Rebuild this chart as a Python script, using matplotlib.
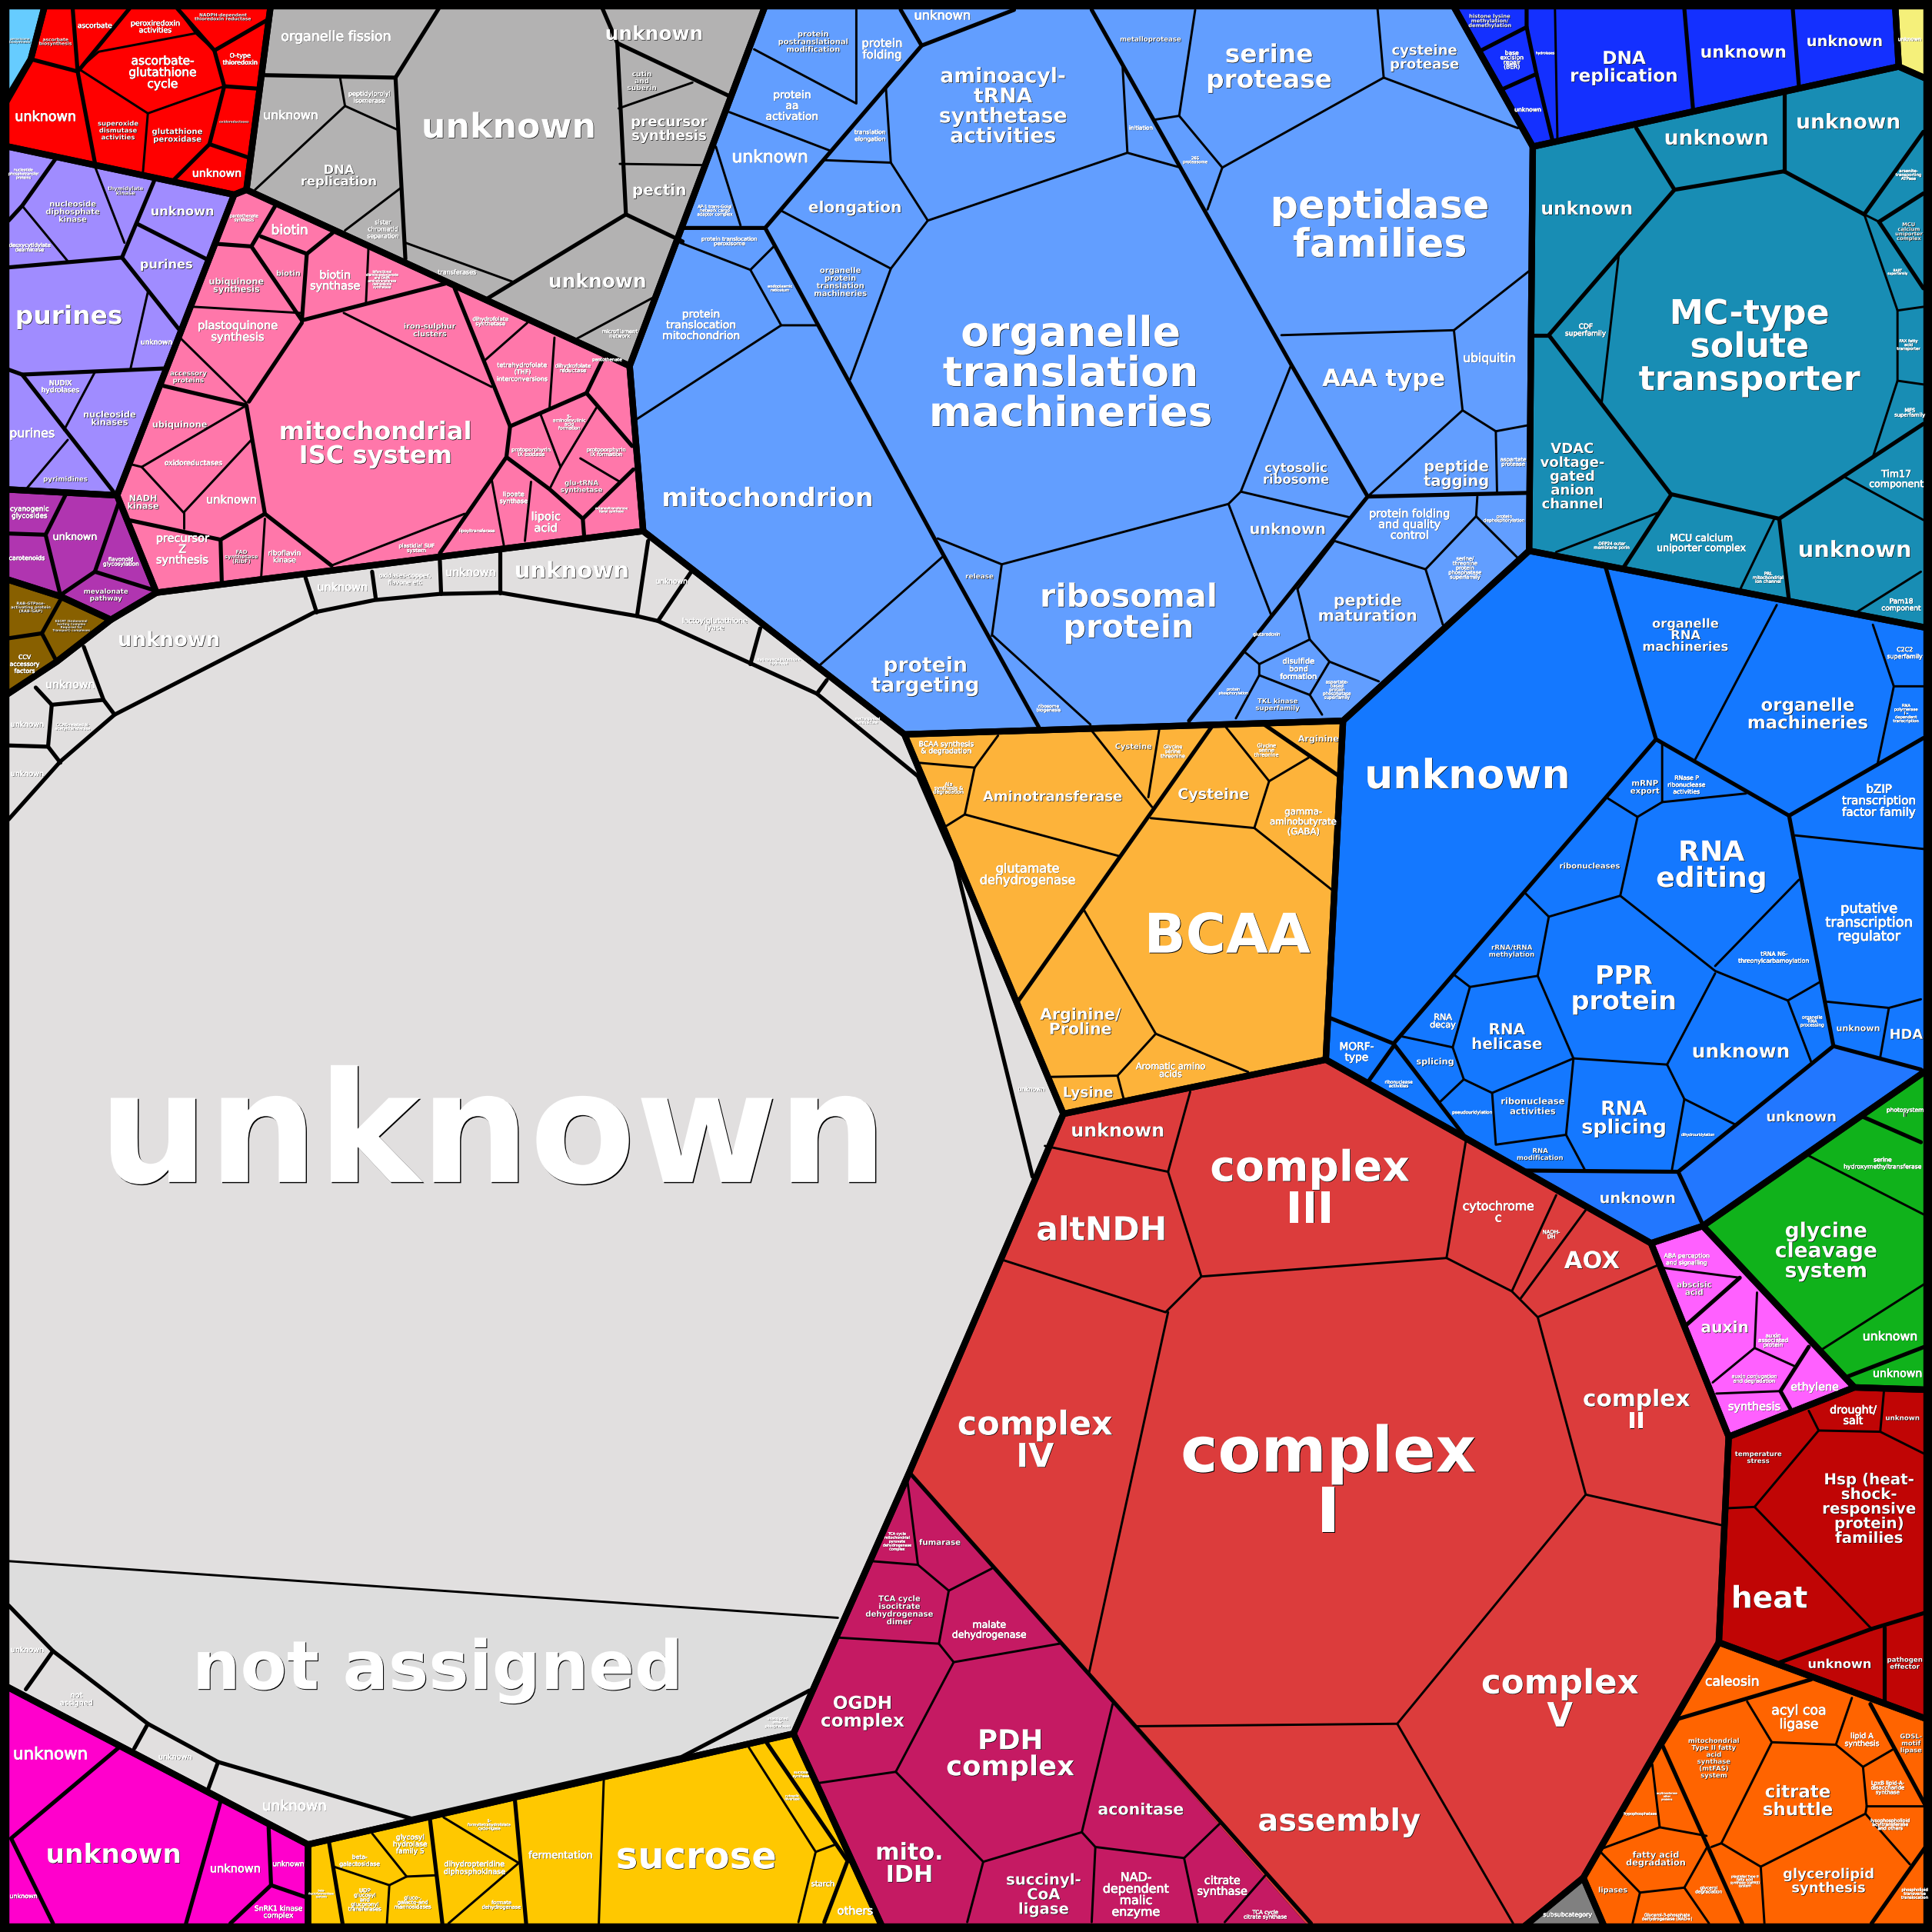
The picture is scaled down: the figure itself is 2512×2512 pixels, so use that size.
import matplotlib
matplotlib.use("Agg")
import matplotlib.pyplot as plt
import matplotlib.patheffects as pe
from matplotlib.patches import Polygon, Rectangle

# group outlines, in the coordinates of the 1568 px preview
light_blue_corner = [(7, 7), (37, 7), (25, 48), (7, 86)]
red_group = [(37, 7), (220, 7), (200, 154), (190, 158), (7, 118), (7, 88), (25, 48)]
lilac_group = [(7, 118), (190, 158), (95, 402), (7, 397)]
pink_group = [(200, 154), (511, 297), (522, 431), (127, 481), (95, 402), (190, 158)]
purple_group = [(7, 397), (95, 402), (127, 481), (90, 503), (49, 484), (7, 469)]
brown_group = [(7, 469), (49, 484), (90, 503), (46, 537), (7, 566)]
gray_group = [(220, 7), (622, 7), (511, 297), (200, 154)]
periwinkle_group = [(622, 7), (1178, 7), (1244, 119), (1241, 447), (1090, 585), (734, 596), (522, 431), (511, 297)]
amber_group = [(734, 596), (1090, 585), (1076, 860), (863, 904)]
pale_group = [(7, 566), (46, 537), (90, 503), (127, 481), (522, 431), (734, 596), (863, 904), (738, 1195), (644, 1407), (250, 1497), (7, 1367)]
not_assigned_cell = [(7, 1267), (680, 1313), (644, 1407), (553, 1426), (334, 1476), (177, 1430), (120, 1399), (43, 1340), (7, 1303)]
red_complex_group = [(863, 904), (1076, 860), (1190, 924), (1340, 1009), (1403, 1166), (1395, 1333), (1285, 1524), (1234, 1561), (1064, 1561), (738, 1195)]
tca_group = [(738, 1195), (1064, 1561), (717, 1561), (644, 1407)]
yellow_group = [(250, 1497), (644, 1407), (717, 1561), (250, 1561)]
magenta_group = [(7, 1367), (250, 1497), (250, 1561), (7, 1561)]
pale_yellow_corner = [(1538, 7), (1561, 7), (1561, 65), (1541, 54)]
royal_group = [(1178, 7), (1538, 7), (1541, 54), (1244, 119)]
teal_group = [(1244, 119), (1541, 54), (1561, 65), (1561, 510), (1241, 447)]
blue_group = [(1241, 447), (1561, 510), (1561, 867), (1382, 995), (1340, 1009), (1190, 924), (1076, 860), (1090, 585)]
blue_unknown_cells = [(1237, 950), (1362, 951), (1488, 849), (1561, 867), (1382, 995), (1340, 1009)]
green_group = [(1382, 995), (1561, 867), (1561, 1128), (1505, 1126)]
hormone_group = [(1340, 1009), (1382, 995), (1505, 1126), (1403, 1166)]
dark_red_group = [(1403, 1166), (1505, 1126), (1561, 1128), (1561, 1396), (1395, 1333)]
orange_group = [(1395, 1333), (1561, 1396), (1561, 1561), (1303, 1561), (1285, 1524)]
gray_corner = [(1285, 1524), (1303, 1561), (1234, 1561)]

group_shapes = [
    light_blue_corner, red_group, lilac_group, pink_group, purple_group, brown_group,
    gray_group, periwinkle_group, amber_group, pale_group, not_assigned_cell,
    red_complex_group, tca_group, yellow_group, magenta_group, pale_yellow_corner,
    royal_group, teal_group, blue_group, blue_unknown_cells, green_group,
    hormone_group, dark_red_group, orange_group, gray_corner,
]
group_colors = [
    "#66ccff", "#ff0000", "#a08cff", "#ff77aa", "#b035b0", "#886000",
    "#b3b2b2", "#629eff", "#fdb33a", "#e1dfdf", "#dddddd",
    "#dc3c3c", "#c51a63", "#ffc800", "#ff00cc", "#f5f07a",
    "#1430ff", "#188db4", "#1478ff", "#2277ff", "#10b21b",
    "#ff60ff", "#c00505", "#ff6400", "#808080",
]
# red complex and TCA share one parent, so only their outer side is heavy
no_outline = [blue_unknown_cells, not_assigned_cell, red_complex_group, tca_group]
outlined = [g for g in group_shapes if not any(g is n for n in no_outline)]
respiration_border = [(717, 1566), (644, 1407), (738, 1195), (863, 904), (1076, 860), (1190, 924), (1340, 1009),
                      (1403, 1166), (1395, 1333), (1285, 1524), (1234, 1566)]

mid_lines = [
    # red complex / TCA
    [(738, 1195), (1064, 1561)],
    # red
    [(25, 48), (63, 58), (77, 132)], [(59, 7), (63, 58)], [(105, 7), (64, 57)],
    [(144, 7), (174, 41), (219, 15)], [(174, 41), (182, 70), (210, 72)],
    [(182, 70), (170, 117), (140, 147)], [(170, 117), (202, 128)],
    # lilac
    [(45, 129), (18, 167), (7, 179)], [(125, 147), (99, 209), (7, 217)],
    [(99, 209), (145, 267)], [(134, 299), (18, 304), (7, 300)], [(18, 304), (92, 399)],
    [(112, 182), (167, 210)],
    # pink
    [(224, 166), (204, 200), (177, 198)], [(204, 200), (245, 260)],
    [(212, 192), (249, 206), (270, 189)], [(249, 206), (245, 260)], [(362, 230), (245, 260)],
    [(245, 262), (202, 326)], [(132, 313), (200, 329), (215, 417), (269, 459)],
    [(369, 234), (414, 346), (411, 371), (357, 449)], [(414, 346), (476, 319), (489, 292)],
    [(476, 319), (513, 362)], [(411, 371), (446, 397), (473, 421), (514, 381)],
    [(473, 421), (474, 434)], [(104, 422), (179, 438), (215, 417)], [(179, 438), (180, 473)],
    # purple and brown
    [(53, 402), (37, 434), (49, 483)], [(7, 433), (37, 434)], [(96, 409), (77, 464), (125, 479)],
    [(77, 464), (49, 483)], [(49, 487), (34, 514), (46, 537)], [(7, 518), (34, 514)],
    # gray
    [(356, 7), (321, 63), (329, 210)], [(215, 61), (321, 63)], [(489, 7), (501, 35), (508, 174), (396, 242)],
    [(501, 35), (592, 78)], [(508, 174), (554, 196)],
    # periwinkle
    [(823, 8), (748, 37), (731, 8)], [(748, 37), (621, 185), (554, 185)],
    [(621, 185), (766, 451), (843, 590)], [(886, 8), (1048, 296), (1110, 403), (1032, 500), (965, 585)],
    [(1110, 403), (1241, 400)],
    # amber
    [(984, 589), (826, 813)], [(1026, 588), (1087, 630)],
    # pale group
    [(7, 665), (49, 618), (93, 580), (255, 497), (304, 487), (357, 482), (406, 481), (517, 500), (534, 504),
     (663, 563), (745, 630), (775, 699), (838, 955)],
    [(7, 1303), (43, 1340), (120, 1399), (177, 1430), (334, 1476), (553, 1426), (657, 1372)],
    [(248, 469), (257, 497)], [(302, 464), (305, 486)], [(357, 455), (358, 482)], [(406, 448), (406, 481)],
    [(526, 439), (517, 500)], [(68, 525), (84, 568), (93, 580)], [(29, 558), (42, 572), (84, 568)],
    [(42, 572), (39, 606), (7, 605)], [(39, 606), (49, 619)], [(561, 464), (534, 504)], [(617, 510), (609, 539)],
    [(671, 552), (663, 563)], [(43, 1340), (21, 1371)], [(120, 1399), (109, 1419)], [(177, 1430), (169, 1452)],
    # teal
    [(1328, 104), (1359, 154), (1448, 139), (1513, 174)], [(1448, 77), (1448, 139)],
    [(1359, 154), (1257, 272), (1356, 401), (1444, 421), (1561, 344)], [(1245, 272), (1257, 272)],
    [(1444, 421), (1452, 488)], [(1513, 174), (1561, 107)], [(1525, 180), (1561, 157)],
    [(1525, 180), (1561, 234)], [(1356, 402), (1318, 460)],
    # blue
    [(1303, 460), (1344, 600), (1452, 662), (1561, 599)], [(1452, 662), (1488, 849), (1559, 868)],
    [(1344, 600), (1131, 847), (1190, 924)], [(1079, 826), (1131, 847)], [(1237, 950), (1362, 951), (1488, 849)],
    [(1362, 951), (1382, 994)], [(1131, 849), (1111, 877)],
    # green, hormones, dark red
    [(1500, 1117), (1562, 1093)], [(1511, 906), (1559, 927)], [(1412, 1037), (1369, 1075)],
    [(1468, 1093), (1445, 1129), (1454, 1145)], [(1519, 1322), (1562, 1309)], [(1519, 1322), (1445, 1349)],
    [(1529, 1321), (1529, 1383)],
    # orange
    [(1362, 1395), (1470, 1363)], [(1362, 1395), (1349, 1416), (1414, 1561)], [(1518, 1383), (1562, 1464)],
    [(1562, 1500), (1519, 1561)],
    # tca and yellow
    [(349, 1477), (359, 1561)], [(418, 1462), (427, 1561)], [(622, 1414), (687, 1509)], [(688, 1510), (669, 1560)],
    [(267, 1495), (278, 1561)],
    # magenta
    [(98, 1417), (9, 1492), (43, 1561)], [(179, 1462), (151, 1561)], [(218, 1483), (220, 1530), (249, 1540)],
    [(220, 1530), (187, 1561)],
    # royal
    [(1239, 7), (1239, 22), (1200, 42)], [(1239, 22), (1247, 60), (1218, 73)], [(1247, 60), (1260, 114)],
    [(1367, 7), (1374, 88)], [(1455, 7), (1460, 70)],
]

thin_lines = [
    # red
    [(80, 42), (159, 27), (174, 41)], [(182, 70), (120, 92), (64, 56), (80, 42)], [(144, 7), (159, 27)],
    [(120, 92), (116, 140)],
    # lilac
    [(18, 167), (55, 212)], [(77, 135), (101, 197)], [(120, 237), (106, 299)],
    [(77, 302), (52, 349)], [(55, 357), (22, 396)],
    # pink
    [(157, 249), (244, 254)], [(299, 202), (297, 246)], [(147, 275), (200, 327)],
    [(279, 254), (399, 314)], [(269, 459), (377, 417)], [(428, 262), (394, 292)],
    [(450, 274), (446, 331)], [(200, 329), (115, 379), (149, 416), (204, 357)], [(107, 377), (115, 379)],
    [(149, 416), (149, 429)], [(215, 421), (212, 468)], [(439, 337), (455, 379), (446, 397)],
    [(455, 379), (484, 331)], [(471, 372), (503, 391)], [(399, 389), (409, 443)], [(431, 391), (426, 439)],
    # gray
    [(276, 63), (280, 86), (322, 105)], [(280, 86), (207, 154)], [(326, 152), (280, 187)],
    [(329, 197), (417, 229)], [(502, 88), (562, 67)], [(503, 133), (571, 134)], [(466, 276), (531, 241)],
    # periwinkle
    [(1040, 272), (1180, 268), (1241, 220)], [(1180, 268), (1187, 333), (1110, 403)],
    [(1187, 333), (1214, 350), (1241, 345)], [(1214, 350), (1215, 400)],
    [(1118, 7), (1123, 63), (992, 136)], [(1123, 63), (1232, 104)],
    [(970, 8), (957, 94), (938, 97)], [(957, 94), (992, 136), (980, 170)],
    [(911, 52), (915, 124), (958, 136)], [(915, 124), (753, 179), (723, 132), (669, 130)],
    [(723, 132), (719, 71)], [(753, 179), (723, 218), (634, 171)], [(723, 218), (690, 308)],
    [(1007, 399), (997, 409), (813, 458), (761, 437)], [(813, 458), (805, 516)],
    [(1048, 296), (1007, 399), (1096, 420)], [(997, 409), (1032, 500)], [(806, 516), (885, 588)],
    [(766, 451), (664, 541)], [(1010, 529), (1022, 539), (1063, 519), (1053, 478)],
    [(1022, 539), (1022, 548), (1003, 583)], [(1022, 548), (1063, 564)],
    [(1083, 439), (1157, 462), (1171, 507)], [(1157, 462), (1198, 419), (1199, 403)], [(1198, 419), (1232, 453)],
    [(1083, 439), (1053, 478)], [(1063, 519), (1079, 537), (1119, 553)], [(1079, 537), (1063, 564), (1073, 580)],
    [(612, 40), (695, 84), (695, 8)], [(592, 91), (673, 122)], [(581, 119), (601, 183)],
    [(552, 197), (609, 219), (628, 200)], [(609, 219), (634, 264), (664, 264)], [(634, 264), (514, 342)],
    # amber
    [(810, 597), (791, 623), (745, 619)], [(791, 623), (783, 661), (767, 671)], [(783, 661), (909, 695)],
    [(886, 593), (935, 655)], [(941, 591), (932, 647)], [(934, 664), (1018, 672), (1030, 634), (994, 589)],
    [(1030, 634), (1062, 615)], [(1018, 672), (1082, 723)], [(880, 739), (938, 839), (1013, 870)],
    [(938, 839), (907, 873), (853, 874)], [(907, 873), (912, 892)],
    # pale group
    [(680, 1313), (7, 1267)],
    # red complex
    [(848, 930), (948, 951), (975, 1036), (946, 1065), (812, 1022)], [(966, 886), (948, 951)],
    [(948, 1065), (884, 1357)], [(975, 1036), (1174, 1021), (1190, 924)],
    [(1174, 1021), (1227, 1048), (1248, 1069), (1287, 1213), (1398, 1238)],
    [(1287, 1213), (1134, 1399), (922, 1401)], [(1134, 1399), (1228, 1561)],
    [(1263, 970), (1227, 1048)], [(1287, 982), (1234, 1054)], [(1345, 1027), (1248, 1069)],
    # tca
    [(707, 1267), (745, 1270), (736, 1198)], [(745, 1270), (770, 1291), (805, 1273)],
    [(770, 1291), (762, 1334), (679, 1329)], [(762, 1334), (774, 1349), (860, 1334)],
    [(774, 1349), (727, 1438), (665, 1447)], [(727, 1438), (798, 1511), (878, 1487), (903, 1383)],
    [(878, 1487), (889, 1499), (961, 1508), (990, 1480)], [(961, 1508), (972, 1560)],
    [(1027, 1522), (994, 1560)], [(889, 1499), (886, 1560)], [(798, 1511), (785, 1560)],
    # yellow
    [(302, 1488), (330, 1523), (353, 1522)], [(271, 1515), (316, 1530), (330, 1523)], [(316, 1530), (314, 1561)],
    [(360, 1475), (421, 1512), (364, 1561)], [(490, 1445), (486, 1561)],
    [(607, 1417), (662, 1503), (648, 1560)], [(662, 1503), (678, 1497)],
    # royal
    [(1262, 7), (1264, 113)],
    # teal
    [(1314, 205), (1300, 326)], [(1520, 371), (1540, 309), (1540, 252), (1513, 174)], [(1513, 174), (1525, 180)],
    [(1540, 252), (1561, 249)], [(1540, 309), (1561, 312)], [(1497, 387), (1561, 422)], [(1559, 464), (1505, 498)],
    [(1440, 421), (1412, 479)], [(1346, 416), (1263, 448)],
    # blue
    [(1442, 491), (1376, 616)], [(1520, 507), (1537, 557), (1561, 557)], [(1537, 557), (1524, 619)],
    [(1457, 678), (1561, 689)], [(1349, 603), (1349, 651), (1417, 644)], [(1305, 648), (1329, 663), (1349, 651)],
    [(1329, 663), (1315, 727), (1392, 788), (1451, 812), (1477, 797)], [(1238, 725), (1257, 744), (1315, 727)],
    [(1392, 784), (1460, 714)], [(1451, 812), (1470, 862)], [(1392, 790), (1353, 864)],
    [(1257, 744), (1248, 792), (1277, 859), (1353, 864)], [(1180, 791), (1193, 801), (1248, 792)],
    [(1193, 801), (1179, 850), (1137, 841)], [(1179, 850), (1188, 876), (1169, 894)],
    [(1188, 876), (1211, 887), (1277, 859), (1271, 921), (1286, 949)], [(1211, 887), (1214, 929), (1271, 921)],
    [(1353, 864), (1367, 892), (1409, 913)], [(1367, 892), (1357, 949)],
    [(1483, 813), (1533, 818), (1559, 811)], [(1533, 818), (1526, 858)],
    # green
    [(1468, 938), (1562, 986)], [(1479, 1095), (1562, 1042)], [(1511, 906), (1467, 938)],
    # hormones
    [(1350, 1029), (1412, 1037)], [(1426, 1049), (1424, 1094), (1390, 1122)], [(1424, 1094), (1457, 1109)],
    [(1445, 1129), (1393, 1131)],
    # dark red
    [(1468, 1145), (1476, 1161), (1526, 1162), (1562, 1180)], [(1529, 1129), (1526, 1162)],
    [(1476, 1161), (1424, 1223), (1403, 1224)], [(1424, 1223), (1519, 1322)],
    # orange
    [(1418, 1381), (1438, 1414), (1490, 1416), (1503, 1378)], [(1490, 1416), (1512, 1434), (1536, 1420)],
    [(1512, 1434), (1515, 1466), (1562, 1466)], [(1515, 1466), (1514, 1472), (1429, 1515)],
    [(1514, 1472), (1550, 1513)], [(1438, 1414), (1397, 1496), (1429, 1515), (1432, 1561)],
    [(1389, 1499), (1397, 1496)], [(1341, 1432), (1347, 1483), (1301, 1500)], [(1347, 1483), (1385, 1490)],
    [(1385, 1500), (1367, 1532), (1331, 1536), (1298, 1502)], [(1367, 1532), (1387, 1561)], [(1331, 1536), (1325, 1561)],
]

# label centre x, centre y, width of the longest line, text
bold_labels = [
    (45, 34, 27, "ascorbate\nbiosynthesis"), (181, 14, 46, "NADPH-dependent\nthioredoxin reductase"),
    (96, 106, 33, "superoxide\ndismutase\nactivities"), (144, 110, 41, "glutathione\nperoxidase"),
    (190, 99, 24, "oxidoreductases"), (16, 33, 17, "peroxisome\nbiosynthesis"),
    (59, 172, 44, "nucleoside\ndiphosphate\nkinase"), (102, 155, 29, "thymidylate\nkinase"),
    (148, 172, 52, "unknown"), (135, 215, 43, "purines"), (56, 257, 87, "purines"),
    (89, 340, 43, "nucleoside\nkinases"), (53, 389, 36, "pyrimidines"), (234, 222, 20, "biotin"),
    (192, 232, 45, "ubiquinone\nsynthesis"), (349, 268, 42, "iron-sulphur\nclusters"),
    (472, 395, 34, "glu-tRNA\nsynthetase"), (153, 306, 30, "accessory\nproteins"),
    (146, 345, 45, "ubiquinone"), (116, 408, 26, "NADH\nkinase"),
    (305, 361, 156, "mitochondrial\nISC system"), (196, 452, 27, "FAD\nsynthetase\n(RibF)"),
    (86, 483, 36, "mevalonate\npathway"), (25, 493, 32, "RAB-GTPase-\nactivating protein\n(RAB-GAP)"),
    (58, 508, 31, "ESCRT (Endosomal\nSorting Complex\nRequired for\nTransport) complexes"),
    (413, 104, 142, "unknown"), (485, 229, 80, "unknown"), (531, 28, 80, "unknown"),
    (521, 66, 24, "cutin\nand\nsuberin"), (543, 105, 62, "precursor\nsynthesis"), (535, 155, 44, "pectin"),
    (275, 143, 62, "DNA\nreplication"),
    (660, 34, 57, "protein\npostranslational\nmodification"), (694, 169, 76, "elongation"),
    (682, 229, 43, "organelle\nprotein\ntranslation\nmachineries"),
    (814, 87, 104, "aminoacyl-\ntRNA\nsynthetase\nactivities"), (869, 304, 230, "organelle\ntranslation\nmachineries"),
    (623, 405, 172, "mitochondrion"), (795, 468, 23, "release"), (916, 498, 144, "ribosomal\nprotein"),
    (751, 549, 88, "protein\ntargeting"), (934, 32, 50, "metalloprotease"), (1030, 55, 102, "serine\nprotease"),
    (1156, 47, 56, "cysteine\nprotease"), (1120, 184, 178, "peptidase\nfamilies"), (1123, 308, 100, "AAA type"),
    (1052, 385, 54, "cytosolic\nribosome"), (1182, 385, 53, "peptide\ntagging"), (1045, 430, 62, "unknown"),
    (1110, 494, 81, "peptide\nmaturation"), (1037, 572, 36, "TKL kinase\nsuperfamily"),
    (1209, 17, 35, "histone lysine\nmethylation/\ndemethylation"), (1318, 55, 88, "DNA\nreplication"),
    (1415, 43, 70, "unknown"), (1497, 34, 62, "unknown"), (1393, 113, 85, "unknown"), (1500, 100, 85, "unknown"),
    (1288, 170, 75, "unknown"), (1420, 282, 180, "MC-type\nsolute\ntransporter"),
    (1276, 387, 52, "VDAC\nvoltage-\ngated\nanion\nchannel"), (1505, 447, 92, "unknown"),
    (1549, 188, 22, "MCU\ncalcium\nuniporter\ncomplex"),
    (1368, 516, 70, "organelle\nRNA\nmachineries"), (1467, 580, 98, "organelle\nmachineries"),
    (1191, 631, 167, "unknown"), (1335, 639, 24, "mRNP\nexport"), (1389, 703, 90, "RNA\nediting"),
    (1290, 703, 49, "ribonucleases"), (1227, 772, 37, "rRNA/tRNA\nmethylation"), (1318, 803, 86, "PPR\nprotein"),
    (1223, 842, 58, "RNA\nhelicase"), (1508, 835, 36, "unknown"), (1547, 840, 27, "HDA"), (1413, 854, 80, "unknown"),
    (1165, 862, 31, "splicing"), (1244, 898, 52, "ribonuclease\nactivities"), (1318, 908, 69, "RNA\nsplicing"),
    (1250, 937, 38, "RNA\nmodification"), (1462, 907, 57, "unknown"), (1329, 973, 62, "unknown"),
    (854, 647, 113, "Aminotransferase"), (920, 606, 30, "Cysteine"), (985, 645, 58, "Cysteine"), (1070, 600, 33, "Arginine"),
    (996, 761, 135, "BCAA"), (877, 830, 66, "Arginine/\nProline"), (883, 887, 41, "Lysine"),
    (907, 918, 76, "unknown"), (1063, 966, 162, "complex\nIII"), (894, 999, 106, "altNDH"), (1292, 1024, 45, "AOX"),
    (1328, 1145, 87, "complex\nII"), (840, 1170, 126, "complex\nIV"), (1078, 1205, 240, "complex\nI"),
    (1266, 1380, 128, "complex\nV"), (1087, 1479, 132, "assembly"),
    (763, 1252, 34, "fumarase"), (730, 1307, 55, "TCA cycle\nisocitrate\ndehydrogenase\ndimer"),
    (700, 1390, 68, "OGDH\ncomplex"), (820, 1424, 104, "PDH\ncomplex"), (926, 1469, 70, "aconitase"),
    (738, 1513, 55, "mito.\nIDH"), (847, 1538, 61, "succinyl-\nCoA\nligase"),
    (400, 925, 640, "unknown"), (355, 1356, 398, "not assigned"), (137, 520, 83, "unknown"), (464, 464, 93, "unknown"),
    (565, 1508, 130, "sucrose"), (92, 1506, 110, "unknown"), (1482, 1016, 83, "glycine\ncleavage\nsystem"),
    (1400, 1078, 39, "auxin"), (1375, 1046, 28, "abscisic\nacid"), (1544, 1151, 28, "unknown"),
    (1427, 1183, 38, "temperature\nstress"), (1517, 1225, 76, "Hsp (heat-\nshock-\nresponsive\nprotein)\nfamilies"),
    (1436, 1298, 62, "heat"), (1493, 1351, 52, "unknown"), (1546, 1350, 29, "pathogen\neffector"),
    (1551, 1415, 18, "GDSL-\nmotif\nlipase"), (1391, 1427, 42, "mitochondrial\nType II fatty\nacid\nsynthase\n(mtFAS)\nsystem"),
    (1459, 1462, 57, "citrate\nshuttle"), (1484, 1527, 74, "glycerolipid\nsynthesis"), (1344, 1509, 48, "fatty acid\ndegradation"),
    (1309, 1534, 24, "lipases"),
]

regular_labels = [
    (77, 21, 28, "ascorbate"), (126, 22, 40, "peroxiredoxin\nactivities"),
    (132, 59, 55, "ascorbate-\nglutathione\ncycle"), (195, 48, 28, "O-type\nthioredoxin"),
    (37, 95, 50, "unknown"), (176, 141, 40, "unknown"), (19, 141, 24, "nucleotide\nphosphotransfer\nproteins"),
    (24, 201, 34, "deoxycytidylate\ndeaminase"), (127, 278, 26, "unknown"), (49, 314, 31, "NUDIX\nhydrolases"),
    (26, 352, 37, "purines"), (198, 177, 23, "pantothenate\nsynthesis"), (235, 187, 30, "biotin"),
    (272, 228, 41, "biotin\nsynthase"),
    (310, 227, 26, "bifunctional\ndiaminopelargonate\nand DAPA\naminotransferase\ndethiobiotin\nsynthetase"),
    (193, 269, 65, "plastoquinone\nsynthesis"), (398, 261, 29, "dihydrofolate\nsynthetase"),
    (424, 302, 41, "tetrahydrofolate\n(THF)\ninterconversions"), (465, 299, 29, "dihydrofolate\nreductase"),
    (493, 292, 24, "pantothenate"), (462, 343, 27, "5-\naminolevulinic\nacid\nformation"),
    (431, 367, 32, "protoporphyrin\nIX oxidase"), (492, 367, 32, "protoporphyrin\nIX formation"),
    (417, 404, 23, "lipoate\nsynthase"), (443, 424, 24, "lipoic\nacid"), (496, 414, 26, "octanoyltransferase\nlipoyl synthase"),
    (157, 376, 47, "oxidoreductases"), (188, 406, 41, "unknown"), (387, 431, 29, "lipoyltransferase"),
    (338, 445, 29, "plastidial SUF\nsystem"), (148, 446, 43, "precursor\nZ\nsynthesis"), (231, 452, 27, "riboflavin\nkinase"),
    (24, 416, 32, "cyanogenic\nglycosides"), (22, 453, 29, "carotenoids"), (61, 436, 36, "unknown"),
    (98, 456, 29, "flavonoid\nglycosylation"), (20, 539, 24, "CCV\naccessory\nfactors"),
    (273, 30, 90, "organelle fission"), (236, 94, 45, "unknown"), (300, 79, 34, "peptidylprolyl\nisomerase"),
    (311, 186, 26, "sister\nchromatid\nseparation"), (371, 221, 31, "transferases"), (503, 271, 29, "microfilament\nnetwork"),
    (716, 40, 33, "protein\nfolding"), (643, 86, 43, "protein\naa\nactivation"), (625, 128, 62, "unknown"),
    (580, 171, 29, "AP-1 trans-Golgi\nnetwork cargo\nadaptor complex"), (706, 110, 26, "translation\nelongation"),
    (765, 13, 46, "unknown"), (592, 196, 45, "protein translocation\nperoxisome"), (633, 234, 20, "endoplasmic\nreticulum"),
    (569, 264, 63, "protein\ntranslocation\nmitochondrion"), (851, 575, 20, "ribosome\nbiogenesis"),
    (926, 104, 19, "initiation"), (970, 130, 20, "26S\nproteasome"), (1209, 291, 43, "ubiquitin"),
    (1228, 375, 21, "aspartate\nprotease"), (1144, 426, 66, "protein folding\nand quality\ncontrol"),
    (1221, 421, 33, "protein\ndephosphorylation"), (1189, 461, 27, "serine/\nthreonine\nprotein\nphosphatase\nsuperfamily"),
    (1028, 515, 22, "glutaredoxin"), (1054, 543, 30, "disulfide\nbond\nformation"), (1001, 561, 24, "protein\nphosphorylation"),
    (1085, 560, 23, "aspartate-\nbased\nprotein\nphosphatase\nsuperfamily"),
    (1227, 49, 19, "base\nexcision\nrepair\n(BER)"), (1240, 89, 22, "unknown"), (1254, 43, 15, "hydrolases"),
    (1550, 32, 19, "unknown"), (1549, 142, 21, "arsenite-\ntransporting\nATPase"), (1540, 221, 16, "BART\nsuperfamily"),
    (1549, 280, 19, "FAX fatty\nacid\ntransporter"), (1550, 335, 25, "MFS\nsuperfamily"), (1287, 268, 33, "CDF\nsuperfamily"),
    (1308, 443, 29, "OEP24 outer\nmembrane porin"), (1381, 441, 72, "MCU calcium\nuniporter complex"),
    (1435, 469, 25, "PRL\nmitochondrial\nion channel"), (1539, 389, 44, "Tim17\ncomponent"), (1543, 491, 32, "Pam18\ncomponent"),
    (1546, 530, 29, "C2C2\nsuperfamily"), (1547, 579, 21, "RNA\npolymerase\nII-\ndependent\ntranscription"),
    (1525, 650, 60, "bZIP\ntranscription\nfactor family"), (1369, 637, 31, "RNase P\nribonuclease\nactivities"),
    (1517, 749, 71, "putative\ntranscription\nregulator"), (1440, 777, 58, "tRNA N6-\nthreonylcarbamoylation"),
    (1171, 829, 21, "RNA\ndecay"), (1471, 829, 19, "organelle\nRNA\nprocessing"), (1101, 854, 28, "MORF-\ntype"),
    (1135, 880, 23, "ribonuclease\nactivities"), (1195, 903, 32, "pseudouridylation"), (1378, 921, 27, "dihydrouridylation"),
    (768, 607, 45, "BCAA synthesis\n& degradation"), (770, 640, 25, "Ala\nsynthesis &\ndegradation"),
    (952, 610, 20, "Glycine\nserine\nthreonine"), (1028, 609, 20, "Glycine\nserine\nthreonine"),
    (1058, 667, 54, "gamma-\naminobutyrate\n(GABA)"), (834, 710, 78, "glutamate\ndehydrogenase"),
    (950, 869, 56, "Aromatic amino\nacids"), (837, 884, 22, "unknown"), (1216, 984, 58, "cytochrome\nc"), (1259, 1002, 14, "NADH-\nDH"),
    (728, 1251, 23, "TCA cycle\nmitochondrial\npyruvate\ndehydrogenase\ncomplex"), (803, 1323, 61, "malate\ndehydrogenase"),
    (922, 1538, 54, "NAD-\ndependent\nmalic\nenzyme"), (992, 1531, 41, "citrate\nsynthase"), (1027, 1554, 35, "TCA cycle\ncitrate synthase"),
    (62, 1379, 27, "not\nassigned"), (142, 1426, 27, "unknown"), (22, 1339, 27, "unknown"), (239, 1466, 52, "unknown"),
    (22, 588, 27, "unknown"), (57, 556, 40, "unknown"), (59, 590, 29, "GCN5-related N-\nacetyltransferase"), (22, 628, 27, "unknown"),
    (278, 477, 41, "unknown"), (329, 470, 42, "oxidases-copper,\nflavone etc"), (382, 465, 41, "unknown"), (545, 472, 26, "unknown"),
    (580, 507, 53, "lactoylglutathione\nlyase"), (632, 537, 35, "hydroxyacylglutathione\nhydrolase"),
    (704, 585, 20, "methylglyoxal\nand lactate"), (631, 1398, 20, "unassigned\nother\nphosphatases"),
    (455, 1506, 52, "fermentation"), (385, 1516, 50, "dihydropteridine\ndiphosphokinase"), (407, 1546, 32, "formate\ndehydrogenase"),
    (397, 1481, 35, "5-\nformyltetrahydrofolate\ncyclo-ligase"), (333, 1497, 28, "glycosyl\nhydrolase\nfamily 5"),
    (292, 1510, 33, "beta-\ngalactosidase"), (296, 1542, 27, "UDP\nglucosyl\nand\nglucoronyl\ntransferases"),
    (335, 1544, 30, "gluco-,\ngalacto-and\nmannosidases"), (261, 1537, 20, "beta-\nfructofuranosidase\nsystems"),
    (668, 1529, 19, "starch"), (694, 1551, 29, "others"), (650, 1440, 13, "sucrose\nsynthase"), (643, 1459, 12, "cytosolic\ninvertase"),
    (41, 1424, 61, "unknown"), (191, 1517, 41, "unknown"), (234, 1513, 26, "unknown"), (19, 1539, 23, "unknown"),
    (226, 1552, 39, "SnRK1 kinase\ncomplex"), (1546, 903, 30, "photosystem\nII"), (1528, 944, 64, "serine\nhydroxymethyltransferase"),
    (1534, 1085, 45, "unknown"), (1540, 1115, 40, "unknown"), (1369, 1022, 37, "ABA perception\nand signalling"),
    (1439, 1088, 24, "auxin\nassociated\nprotein"), (1424, 1119, 37, "auxin conjugation\nand degradation"),
    (1473, 1126, 39, "ethylene"), (1424, 1142, 43, "synthesis"), (1504, 1149, 38, "drought/\nsalt"),
    (1406, 1365, 44, "caleosin"), (1460, 1394, 44, "acyl coa\nligase"), (1511, 1412, 28, "lipid A\nsynthesis"),
    (1532, 1451, 27, "LpxB lipid-A-\ndisaccharide\nsynthase"), (1534, 1481, 32, "lysophospholipid\nacyltransferase\nand others"),
    (1353, 1556, 41, "Glycerol-3-phosphate\ndehydrogenase (NAD+)"), (1387, 1534, 22, "glycerol\ndegradation"),
    (1416, 1527, 24, "plastidial Type II\nfatty acid\nsynthase (cpFAS)\nsystem"),
    (1554, 1537, 22, "phospholipid\ntransverse\ntranslocation"), (1353, 1458, 14, "acyltransferase\nother\nproteins"),
    (1331, 1472, 27, "hypophosphatase"), (1272, 1554, 40, "subsubcategory"),
]


# vertices on the frame are pushed under it, so group borders do not thicken it
def bleed(shape):
    out = []
    for x, y in shape:
        x = 2 if x <= 7 else 1566 if x >= 1561 else x
        y = 2 if y <= 8 else 1566 if y >= 1561 else y
        out.append((x, y))
    return out


fig = plt.figure(figsize=(10.048, 10.048), dpi=250, facecolor="black")
ax = fig.add_axes([0, 0, 1, 1])
ax.set_xlim(0, 1568)
ax.set_ylim(1568, 0)
ax.axis("off")

for shape, color in zip(group_shapes, group_colors):
    ax.add_patch(Polygon(bleed(shape), closed=True, facecolor=color, edgecolor="none", zorder=1))

for chain in thin_lines:
    ax.plot([p[0] for p in chain], [p[1] for p in chain], color="black", lw=0.85, zorder=2, solid_capstyle="round")
for chain in mid_lines:
    ax.plot([p[0] for p in chain], [p[1] for p in chain], color="black", lw=1.5, zorder=3, solid_capstyle="round")
for shape in outlined:
    ax.add_patch(Polygon(bleed(shape), closed=True, fill=False, edgecolor="black", lw=2.4, joinstyle="round", zorder=4))
ax.plot([p[0] for p in respiration_border], [p[1] for p in respiration_border], color="black", lw=2.4, zorder=4)

# black frame round the whole map
ax.add_patch(Rectangle((3.5, 3.5), 1561, 1561, fill=False, edgecolor="black", lw=3.3, joinstyle="miter", zorder=5))

renderer = fig.canvas.get_renderer()
px_per_unit = 2512 / 1568


def add_label(x, y, width, text, weight):
    t = ax.text(x, y, text, color="white", fontsize=10, weight=weight, ha="center", va="center",
                multialignment="center", linespacing=1.0, zorder=6, family="DejaVu Sans")
    # measured twice, hinting makes the first pass a little off at large sizes
    size = 10 * width * px_per_unit / t.get_window_extent(renderer).width
    t.set_fontsize(size)
    size = size * width * px_per_unit / t.get_window_extent(renderer).width
    t.set_fontsize(size)
    off = min(0.4, max(0.18, size * 0.012))
    effects = [pe.withSimplePatchShadow(offset=(off, -off), shadow_rgbFace="black", alpha=1.0)]
    if weight == "normal":
        effects.append(pe.withStroke(linewidth=min(0.3, size * 0.05), foreground="white"))
    t.set_path_effects(effects)


for x, y, w, s in bold_labels:
    add_label(x, y, w, s, "bold")
for x, y, w, s in regular_labels:
    add_label(x, y, w, s, "normal")

fig.savefig("out.png", dpi=250, facecolor="black")
